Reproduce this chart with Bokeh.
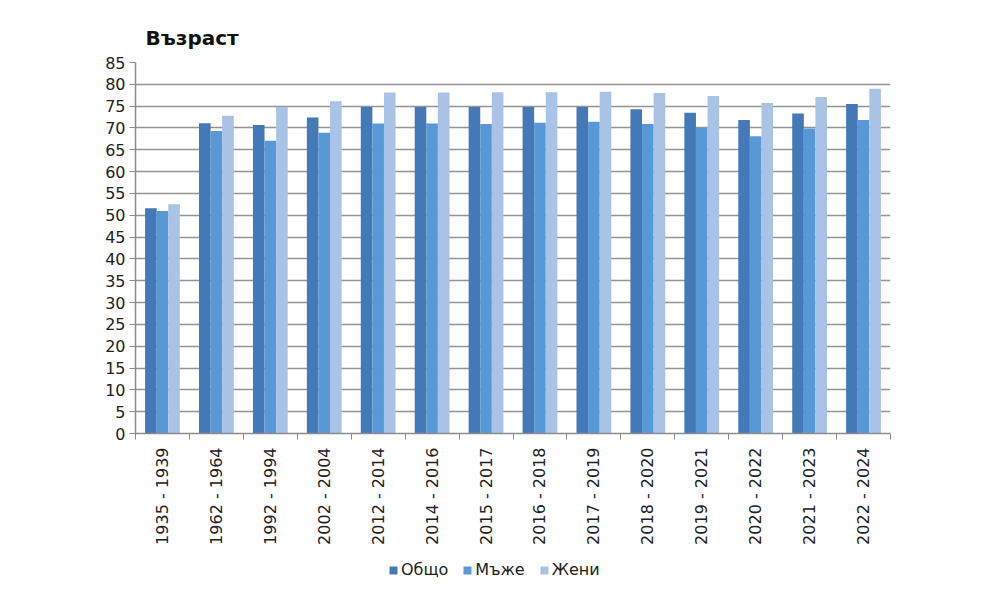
from bokeh.plotting import figure
from bokeh.models import Range1d, FixedTicker, Legend, LegendItem, ColumnDataSource
from bokeh.layouts import column
from bokeh.embed import file_html
from bokeh.resources import INLINE
import math

periods = ["1935 - 1939", "1962 - 1964", "1992 - 1994", "2002 - 2004", "2012 - 2014",
           "2014 - 2016", "2015 - 2017", "2016 - 2018", "2017 - 2019", "2018 - 2020",
           "2019 - 2021", "2020 - 2022", "2021 - 2023", "2022 - 2024"]
total = [51.6, 71.1, 70.7, 72.4, 74.8, 74.8, 74.8, 74.8, 74.8, 74.3, 73.5, 71.8, 73.3, 75.5]
men   = [51.0, 69.3, 67.1, 68.9, 71.0, 71.0, 70.9, 71.2, 71.4, 70.9, 70.0, 68.1, 69.9, 71.8]
women = [52.5, 72.8, 74.8, 76.1, 78.1, 78.1, 78.2, 78.2, 78.3, 78.0, 77.3, 75.7, 77.1, 79.0]
series_names = ["Общо", "Мъже", "Жени"]
colors = ["#4279b6", "#5898d6", "#a9c3e7"]
y_ticks = list(range(0, 90, 5))

FONT = "DejaVu Sans"
idx = list(range(len(periods)))

p = figure(width=980, height=548, output_backend="svg", toolbar_location=None,
           x_range=Range1d(-0.5, len(periods) - 0.5), y_range=Range1d(0, 85),
           min_border_left=135, min_border_right=90, min_border_top=62,
           min_border_bottom=115)
p.outline_line_color = None
p.background_fill_color = "white"
p.border_fill_color = "white"

offsets = [-0.215, 0.0, 0.215]
for name, vals, col, off in zip(series_names, [total, men, women], colors, offsets):
    src = ColumnDataSource(dict(x=[i + off for i in idx], top=vals))
    p.vbar(x="x", top="top", width=0.215, source=src, fill_color=col, line_color=None)

# axes
xa = p.xaxis[0]
xa.ticker = FixedTicker(ticks=idx, minor_ticks=[i - 0.5 for i in range(len(periods) + 1)])
xa.major_label_overrides = {i: s for i, s in enumerate(periods)}
xa.major_label_orientation = math.pi / 2
xa.major_tick_out = 0
xa.major_tick_in = 0
xa.minor_tick_out = 6
xa.minor_tick_in = 0
xa.minor_tick_line_color = "#8c8c8c"
xa.axis_line_color = "#8c8c8c"
xa.axis_line_width = 1.5
xa.major_label_text_font = FONT
xa.major_label_text_font_size = "16px"
xa.major_label_text_color = "#222222"
xa.major_label_standoff = 8

ya = p.yaxis[0]
ya.ticker = FixedTicker(ticks=y_ticks)
ya.minor_tick_line_color = None
ya.major_tick_out = 6
ya.major_tick_in = 0
ya.major_tick_line_color = "#8c8c8c"
ya.axis_line_color = "#8c8c8c"
ya.axis_line_width = 1.5
ya.major_label_text_font = FONT
ya.major_label_text_font_size = "16px"
ya.major_label_text_color = "#222222"
ya.major_label_standoff = 4

p.xgrid.grid_line_color = None
p.ygrid.ticker = FixedTicker(ticks=y_ticks)
p.ygrid.grid_line_color = "#959595"
p.ygrid.grid_line_width = 1.5

p.title.text = "Възраст"
p.title.text_font = FONT
p.title.text_font_style = "bold"
p.title.text_font_size = "20px"
p.title.text_color = "#111111"
p.title.align = "left"
p.title.offset = 10
p.title.standoff = 26

# legend strip below the chart (its frame is aligned with the chart's frame)
lg = figure(width=980, height=46, output_backend="svg", toolbar_location=None,
            x_range=Range1d(0, 1), y_range=Range1d(0, 1),
            min_border_left=135, min_border_right=90,
            min_border_top=0, min_border_bottom=0)
lg.axis.visible = False
lg.grid.visible = False
lg.outline_line_color = None
items = []
for name, col in zip(series_names, colors):
    # placeholder glyph outside the visible range: only used for the legend swatch
    r = lg.vbar(x=[-5], top=[0], width=0.1, fill_color=col, line_color=None)
    items.append(LegendItem(label=name, renderers=[r]))
legend = Legend(items=items, orientation="horizontal", location=(253, 15),
                label_text_font=FONT, label_text_font_size="16px",
                label_text_color="#222222", glyph_width=10, glyph_height=10,
                label_standoff=3, spacing=14, border_line_color=None,
                background_fill_alpha=0, padding=0, margin=0)
lg.add_layout(legend, "center")

layout = column(p, lg, spacing=0)
open("out.html", "w").write(file_html(layout, INLINE))
